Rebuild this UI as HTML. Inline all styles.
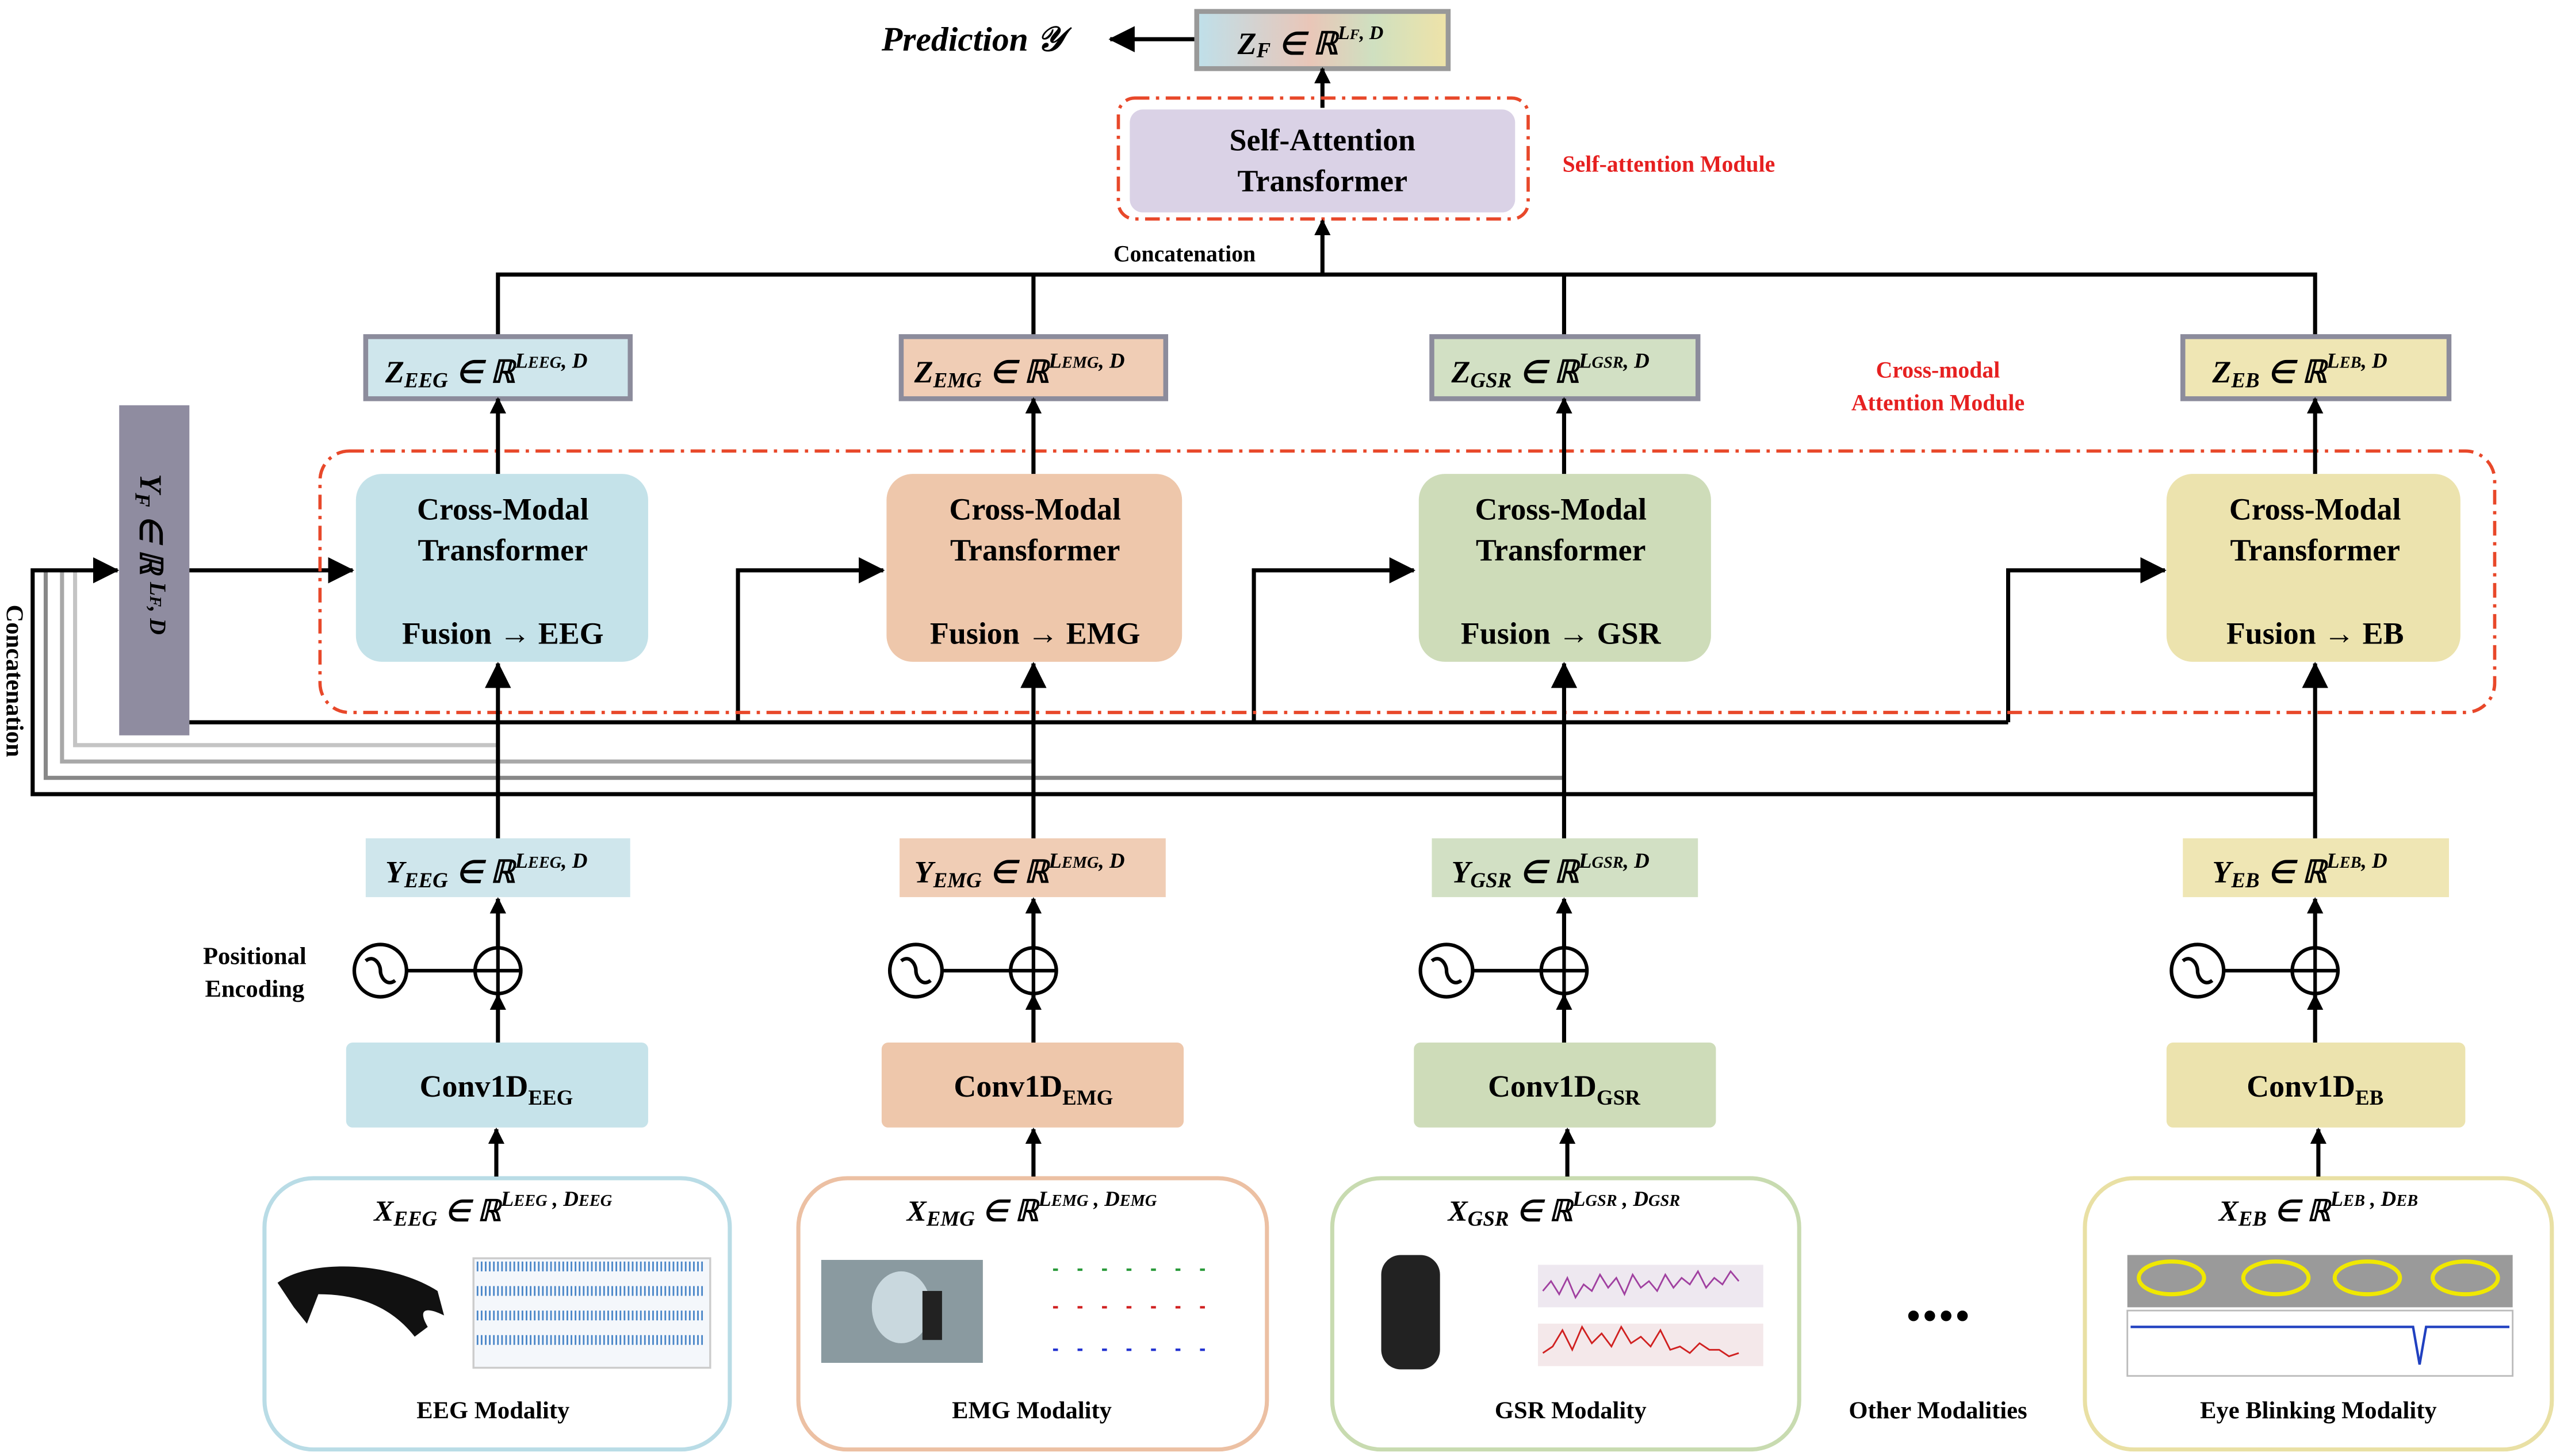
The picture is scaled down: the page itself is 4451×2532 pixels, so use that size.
<!DOCTYPE html>
<html><head><meta charset="utf-8">
<style>
html,body{margin:0;padding:0;background:#fff;}
svg{display:block;}
text{font-family:"Liberation Serif",serif;font-weight:bold;}
</style></head>
<body>
<svg width="4451" height="2532" viewBox="0 0 1568 891" preserveAspectRatio="none" xmlns="http://www.w3.org/2000/svg">
<defs>
<marker id="ar" markerWidth="10" markerHeight="10" refX="9" refY="5" orient="auto" markerUnits="userSpaceOnUse"><path d="M0,0 L10,5 L0,10 z" fill="#000"/></marker>
<marker id="ab" markerWidth="16" markerHeight="16" refX="15" refY="8" orient="auto" markerUnits="userSpaceOnUse"><path d="M0,0 L16,8 L0,16 z" fill="#000"/></marker>
<linearGradient id="gz" x1="0" x2="1"><stop offset="0" stop-color="#bfe0ea"/><stop offset="0.45" stop-color="#e9c6b8"/><stop offset="0.7" stop-color="#cfe0c0"/><stop offset="1" stop-color="#efe3a8"/></linearGradient>
</defs>

<!-- top -->
<text x="540" y="31" font-size="21" font-style="italic">Prediction 𝒴</text>
<line x1="732" y1="24" x2="680" y2="24" stroke="#000" stroke-width="2.5" marker-end="url(#ab)"/>
<rect x="733" y="7" width="154" height="35" fill="url(#gz)" stroke="#999" stroke-width="3"/>
<text x="758" y="33" font-size="19" font-style="italic">Z<tspan font-size="13" dy="2">F</tspan><tspan dy="-2"> ∈ ℝ</tspan><tspan font-size="12" dy="-9">L<tspan font-size="9">F</tspan>, D</tspan></text>
<line x1="810" y1="66" x2="810" y2="42" stroke="#000" stroke-width="2.5" marker-end="url(#ar)"/>
<rect x="685" y="60" width="251" height="74" rx="10" fill="none" stroke="#e8482a" stroke-width="2" stroke-dasharray="9,4,2,4"/>
<rect x="692" y="67" width="236" height="63" rx="8" fill="#dad2e6"/>
<text x="810" y="92" font-size="19" text-anchor="middle">Self-Attention</text>
<text x="810" y="117" font-size="19" text-anchor="middle">Transformer</text>
<text x="957" y="105" font-size="14" fill="#e62020">Self-attention Module</text>
<text x="682" y="160" font-size="14">Concatenation</text>
<line x1="810" y1="168" x2="810" y2="135" stroke="#000" stroke-width="2.5" marker-end="url(#ar)"/>
<polyline points="305,205 305,168 1418,168 1418,205" fill="none" stroke="#000" stroke-width="2.5"/>
<line x1="633" y1="168" x2="633" y2="205" stroke="#000" stroke-width="2.5"/>
<line x1="958" y1="168" x2="958" y2="205" stroke="#000" stroke-width="2.5"/>

<text x="1187" y="231" font-size="14" fill="#e62020" text-anchor="middle">Cross-modal</text>
<text x="1187" y="251" font-size="14" fill="#e62020" text-anchor="middle">Attention Module</text>

<!-- concatenation lines -->
<polyline points="305,456 46,456 46,349" fill="none" stroke="#c4c4c4" stroke-width="2.5"/>
<polyline points="633,466 38,466 38,349" fill="none" stroke="#a8a8a8" stroke-width="2.5"/>
<polyline points="958,476 28,476 28,349" fill="none" stroke="#888" stroke-width="2.5"/>
<polyline points="1418,486 20,486 20,349 72,349" fill="none" stroke="#000" stroke-width="2.5" marker-end="url(#ab)"/>
<text transform="translate(4,370) rotate(90)" font-size="15">Concatenation</text>

<!-- Y_F -->
<rect x="73" y="248" width="43" height="202" fill="#8f8ca0"/>
<text transform="translate(86,290) rotate(90)" font-size="19" font-style="italic">Y<tspan font-size="13" dy="3">F</tspan><tspan dy="-3"> ∈ ℝ </tspan><tspan font-size="14" dy="-6">L<tspan font-size="10">F</tspan>,  D</tspan></text>
<line x1="116" y1="349" x2="216" y2="349" stroke="#000" stroke-width="2.5" marker-end="url(#ab)"/>
<polyline points="116,442 1230,442" fill="none" stroke="#000" stroke-width="2.5"/>
<polyline points="452,442 452,349 541,349" fill="none" stroke="#000" stroke-width="2.5" marker-end="url(#ab)"/>
<polyline points="768,442 768,349 866,349" fill="none" stroke="#000" stroke-width="2.5" marker-end="url(#ab)"/>
<polyline points="1230,442 1230,349 1326,349" fill="none" stroke="#000" stroke-width="2.5" marker-end="url(#ab)"/>

<rect x="196" y="276" width="1332" height="160" rx="18" fill="none" stroke="#e8482a" stroke-width="2" stroke-dasharray="9,4,2,4"/>

<!-- columns -->
<g id="cols">
<!-- EEG -->
<rect x="224" y="206" width="162" height="38" fill="#cfe6ec" stroke="#8c8c9c" stroke-width="3"/>
<text x="236" y="234" font-size="19" font-style="italic">Z<tspan font-size="13" dy="3">EEG</tspan><tspan dy="-3"> ∈ ℝ</tspan><tspan font-size="13" dy="-9">L<tspan font-size="10">EEG</tspan>, D</tspan></text>
<rect x="218" y="290" width="179" height="115" rx="16" fill="#c4e2e9"/>
<text x="308" y="318" font-size="19" text-anchor="middle">Cross-Modal</text>
<text x="308" y="343" font-size="19" text-anchor="middle">Transformer</text>
<text x="308" y="394" font-size="19" text-anchor="middle">Fusion → EEG</text>
<rect x="224" y="513" width="162" height="36" fill="#cfe6ec"/>
<text x="236" y="540" font-size="19" font-style="italic">Y<tspan font-size="13" dy="3">EEG</tspan><tspan dy="-3"> ∈ ℝ</tspan><tspan font-size="13" dy="-9">L<tspan font-size="10">EEG</tspan>, D</tspan></text>
<rect x="212" y="638" width="185" height="52" rx="4" fill="#c6e3ea"/>
<text x="304" y="671" font-size="19" text-anchor="middle">Conv1D<tspan font-size="13" dy="5">EEG</tspan></text>
<rect x="162" y="721" width="285" height="166" rx="30" fill="#fff" stroke="#b9dce6" stroke-width="2.5"/>
<text x="302" y="747" font-size="18" text-anchor="middle" font-style="italic">X<tspan font-size="13" dy="3">EEG</tspan><tspan dy="-3"> ∈ ℝ</tspan><tspan font-size="13" dy="-9">L<tspan font-size="10">EEG</tspan> , D<tspan font-size="10">EEG</tspan></tspan></text>
<text x="302" y="868" font-size="15" text-anchor="middle">EEG Modality</text>
<path d="M170,785 C190,770 240,772 268,790 L272,805 C262,800 255,800 262,812 L254,818 C240,800 220,792 195,792 L188,810 L180,800 Z" fill="#111"/>
<g stroke="#2f6fb0" stroke-width="1.2">
<rect x="290" y="770" width="145" height="67" fill="#f4f7fb" stroke="#ccc"/>
<path d="M292,775 L432,775 M292,790 L432,790 M292,805 L432,805 M292,820 L432,820" stroke="#4a86c8" stroke-width="6" stroke-dasharray="1,1.5"/>
</g>
<!-- EMG -->
<rect x="552" y="206" width="162" height="38" fill="#f0cdb5" stroke="#8c8c9c" stroke-width="3"/>
<text x="560" y="234" font-size="19" font-style="italic">Z<tspan font-size="13" dy="3">EMG</tspan><tspan dy="-3"> ∈ ℝ</tspan><tspan font-size="13" dy="-9">L<tspan font-size="10">EMG</tspan>, D</tspan></text>
<rect x="543" y="290" width="181" height="115" rx="16" fill="#eec7ab"/>
<text x="634" y="318" font-size="19" text-anchor="middle">Cross-Modal</text>
<text x="634" y="343" font-size="19" text-anchor="middle">Transformer</text>
<text x="634" y="394" font-size="19" text-anchor="middle">Fusion → EMG</text>
<rect x="551" y="513" width="163" height="36" fill="#f0cdb5"/>
<text x="560" y="540" font-size="19" font-style="italic">Y<tspan font-size="13" dy="3">EMG</tspan><tspan dy="-3"> ∈ ℝ</tspan><tspan font-size="13" dy="-9">L<tspan font-size="10">EMG</tspan>, D</tspan></text>
<rect x="540" y="638" width="185" height="52" rx="4" fill="#eec7ab"/>
<text x="633" y="671" font-size="19" text-anchor="middle">Conv1D<tspan font-size="13" dy="5">EMG</tspan></text>
<rect x="489" y="721" width="287" height="166" rx="30" fill="#fff" stroke="#ecc0a3" stroke-width="2.5"/>
<text x="632" y="747" font-size="18" text-anchor="middle" font-style="italic">X<tspan font-size="13" dy="3">EMG</tspan><tspan dy="-3"> ∈ ℝ</tspan><tspan font-size="13" dy="-9">L<tspan font-size="10">EMG</tspan> , D<tspan font-size="10">EMG</tspan></tspan></text>
<text x="632" y="868" font-size="15" text-anchor="middle">EMG Modality</text>
<rect x="503" y="771" width="99" height="63" fill="#8a9aa0"/>
<ellipse cx="552" cy="800" rx="18" ry="22" fill="#c9d8de"/>
<rect x="565" y="790" width="12" height="30" fill="#222"/>
<g fill="none" stroke-width="1.5"><path d="M645,777 L740,777" stroke="#2a9a3a" stroke-dasharray="3,12"/><path d="M645,800 L740,800" stroke="#d02020" stroke-dasharray="3,12"/><path d="M645,826 L740,826" stroke="#2030d0" stroke-dasharray="3,12"/></g>
<!-- GSR -->
<rect x="877" y="206" width="163" height="38" fill="#d2e0c4" stroke="#8c8c9c" stroke-width="3"/>
<text x="889" y="234" font-size="19" font-style="italic">Z<tspan font-size="13" dy="3">GSR</tspan><tspan dy="-3"> ∈ ℝ</tspan><tspan font-size="13" dy="-9">L<tspan font-size="10">GSR</tspan>, D</tspan></text>
<rect x="869" y="290" width="179" height="115" rx="16" fill="#cedcb9"/>
<text x="956" y="318" font-size="19" text-anchor="middle">Cross-Modal</text>
<text x="956" y="343" font-size="19" text-anchor="middle">Transformer</text>
<text x="956" y="394" font-size="19" text-anchor="middle">Fusion → GSR</text>
<rect x="877" y="513" width="163" height="36" fill="#d2e0c4"/>
<text x="889" y="540" font-size="19" font-style="italic">Y<tspan font-size="13" dy="3">GSR</tspan><tspan dy="-3"> ∈ ℝ</tspan><tspan font-size="13" dy="-9">L<tspan font-size="10">GSR</tspan>, D</tspan></text>
<rect x="866" y="638" width="185" height="52" rx="4" fill="#cedcb9"/>
<text x="958" y="671" font-size="19" text-anchor="middle">Conv1D<tspan font-size="13" dy="5">GSR</tspan></text>
<rect x="816" y="721" width="286" height="166" rx="30" fill="#fff" stroke="#c8dbb0" stroke-width="2.5"/>
<text x="958" y="747" font-size="18" text-anchor="middle" font-style="italic">X<tspan font-size="13" dy="3">GSR</tspan><tspan dy="-3"> ∈ ℝ</tspan><tspan font-size="13" dy="-9">L<tspan font-size="10">GSR</tspan> , D<tspan font-size="10">GSR</tspan></tspan></text>
<text x="962" y="868" font-size="15" text-anchor="middle">GSR Modality</text>
<rect x="846" y="768" width="36" height="70" rx="12" fill="#222"/>
<rect x="942" y="774" width="138" height="26" fill="#eee8f0"/>
<rect x="942" y="810" width="138" height="26" fill="#f4e8ea"/>
<path d="M945,790 l5,-6 5,8 5,-10 5,12 5,-8 5,4 5,-10 5,8 5,-6 5,10 5,-12 5,8 5,-4 5,6 5,-10 5,8 5,-6 5,4 5,-8 5,10 5,-6 5,4 5,-8 5,6" fill="none" stroke="#a040a0" stroke-width="1"/>
<path d="M945,828 l6,-4 6,-10 6,12 6,-14 6,10 6,-6 6,8 6,-12 6,10 6,-4 6,6 6,-10 6,12 6,-2 6,4 6,-6 6,4 6,0 6,4 6,-2" fill="none" stroke="#d02020" stroke-width="1"/>
<!-- EB -->
<rect x="1337" y="206" width="163" height="38" fill="#efe6b4" stroke="#8c8c9c" stroke-width="3"/>
<text x="1355" y="234" font-size="19" font-style="italic">Z<tspan font-size="13" dy="3">EB</tspan><tspan dy="-3"> ∈ ℝ</tspan><tspan font-size="13" dy="-9">L<tspan font-size="10">EB</tspan>, D</tspan></text>
<rect x="1327" y="290" width="180" height="115" rx="16" fill="#ece3ae"/>
<text x="1418" y="318" font-size="19" text-anchor="middle">Cross-Modal</text>
<text x="1418" y="343" font-size="19" text-anchor="middle">Transformer</text>
<text x="1418" y="394" font-size="19" text-anchor="middle">Fusion → EB</text>
<rect x="1337" y="513" width="163" height="36" fill="#efe6b4"/>
<text x="1355" y="540" font-size="19" font-style="italic">Y<tspan font-size="13" dy="3">EB</tspan><tspan dy="-3"> ∈ ℝ</tspan><tspan font-size="13" dy="-9">L<tspan font-size="10">EB</tspan>, D</tspan></text>
<rect x="1327" y="638" width="183" height="52" rx="4" fill="#ece3ae"/>
<text x="1418" y="671" font-size="19" text-anchor="middle">Conv1D<tspan font-size="13" dy="5">EB</tspan></text>
<rect x="1277" y="721" width="286" height="166" rx="30" fill="#fff" stroke="#e9e0a4" stroke-width="2.5"/>
<text x="1420" y="747" font-size="18" text-anchor="middle" font-style="italic">X<tspan font-size="13" dy="3">EB</tspan><tspan dy="-3"> ∈ ℝ</tspan><tspan font-size="13" dy="-9">L<tspan font-size="10">EB</tspan> , D<tspan font-size="10">EB</tspan></tspan></text>
<text x="1420" y="868" font-size="15" text-anchor="middle">Eye Blinking Modality</text>
<rect x="1303" y="768" width="236" height="32" fill="#9a9a9a"/>
<g fill="none" stroke="#f0e800" stroke-width="2.5"><ellipse cx="1330" cy="782" rx="20" ry="10"/><ellipse cx="1394" cy="782" rx="20" ry="10"/><ellipse cx="1450" cy="782" rx="20" ry="10"/><ellipse cx="1510" cy="782" rx="20" ry="10"/></g>
<rect x="1303" y="802" width="236" height="40" fill="#fff" stroke="#bbb"/>
<path d="M1305,812 L1470,812 L1478,812 L1482,835 L1486,812 L1537,812" fill="none" stroke="#2040c0" stroke-width="1.5"/>
</g>

<!-- vertical arrows per column -->
<g stroke="#000" stroke-width="2.5" fill="none">
<line x1="305" y1="290" x2="305" y2="244" marker-end="url(#ar)"/>
<line x1="633" y1="290" x2="633" y2="244" marker-end="url(#ar)"/>
<line x1="958" y1="290" x2="958" y2="244" marker-end="url(#ar)"/>
<line x1="1418" y1="290" x2="1418" y2="244" marker-end="url(#ar)"/>
<line x1="305" y1="513" x2="305" y2="406" marker-end="url(#ab)"/>
<line x1="633" y1="513" x2="633" y2="406" marker-end="url(#ab)"/>
<line x1="958" y1="513" x2="958" y2="406" marker-end="url(#ab)"/>
<line x1="1418" y1="513" x2="1418" y2="406" marker-end="url(#ab)"/>
<line x1="305" y1="580" x2="305" y2="550" marker-end="url(#ar)"/>
<line x1="633" y1="580" x2="633" y2="550" marker-end="url(#ar)"/>
<line x1="958" y1="580" x2="958" y2="550" marker-end="url(#ar)"/>
<line x1="1418" y1="580" x2="1418" y2="550" marker-end="url(#ar)"/>
<line x1="305" y1="638" x2="305" y2="609" marker-end="url(#ar)"/>
<line x1="633" y1="638" x2="633" y2="609" marker-end="url(#ar)"/>
<line x1="958" y1="638" x2="958" y2="609" marker-end="url(#ar)"/>
<line x1="1418" y1="638" x2="1418" y2="609" marker-end="url(#ar)"/>
<line x1="304" y1="720" x2="304" y2="691" marker-end="url(#ar)"/>
<line x1="633" y1="720" x2="633" y2="691" marker-end="url(#ar)"/>
<line x1="960" y1="720" x2="960" y2="691" marker-end="url(#ar)"/>
<line x1="1420" y1="720" x2="1420" y2="691" marker-end="url(#ar)"/>
</g>

<!-- positional encodings -->
<g stroke="#000" stroke-width="2.2" fill="none">
<g transform="translate(233,594)"><circle r="16" fill="#fff"/><path d="M-9,-6 C-4,-10 0,-4 0,0 C0,4 4,10 9,6"/><line x1="16" y1="0" x2="58" y2="0"/><circle cx="72" r="14" fill="#fff"/><line x1="58" y1="0" x2="86" y2="0"/><line x1="72" y1="-14" x2="72" y2="14"/></g>
<g transform="translate(561,594)"><circle r="16" fill="#fff"/><path d="M-9,-6 C-4,-10 0,-4 0,0 C0,4 4,10 9,6"/><line x1="16" y1="0" x2="58" y2="0"/><circle cx="72" r="14" fill="#fff"/><line x1="58" y1="0" x2="86" y2="0"/><line x1="72" y1="-14" x2="72" y2="14"/></g>
<g transform="translate(886,594)"><circle r="16" fill="#fff"/><path d="M-9,-6 C-4,-10 0,-4 0,0 C0,4 4,10 9,6"/><line x1="16" y1="0" x2="58" y2="0"/><circle cx="72" r="14" fill="#fff"/><line x1="58" y1="0" x2="86" y2="0"/><line x1="72" y1="-14" x2="72" y2="14"/></g>
<g transform="translate(1346,594)"><circle r="16" fill="#fff"/><path d="M-9,-6 C-4,-10 0,-4 0,0 C0,4 4,10 9,6"/><line x1="16" y1="0" x2="58" y2="0"/><circle cx="72" r="14" fill="#fff"/><line x1="58" y1="0" x2="86" y2="0"/><line x1="72" y1="-14" x2="72" y2="14"/></g>
</g>
<text x="156" y="590" font-size="15" text-anchor="middle">Positional</text>
<text x="156" y="610" font-size="15" text-anchor="middle">Encoding</text>

<text x="1187" y="808" font-size="40" text-anchor="middle">....</text>
<text x="1187" y="868" font-size="15" text-anchor="middle">Other Modalities</text>
</svg>
</body></html>
